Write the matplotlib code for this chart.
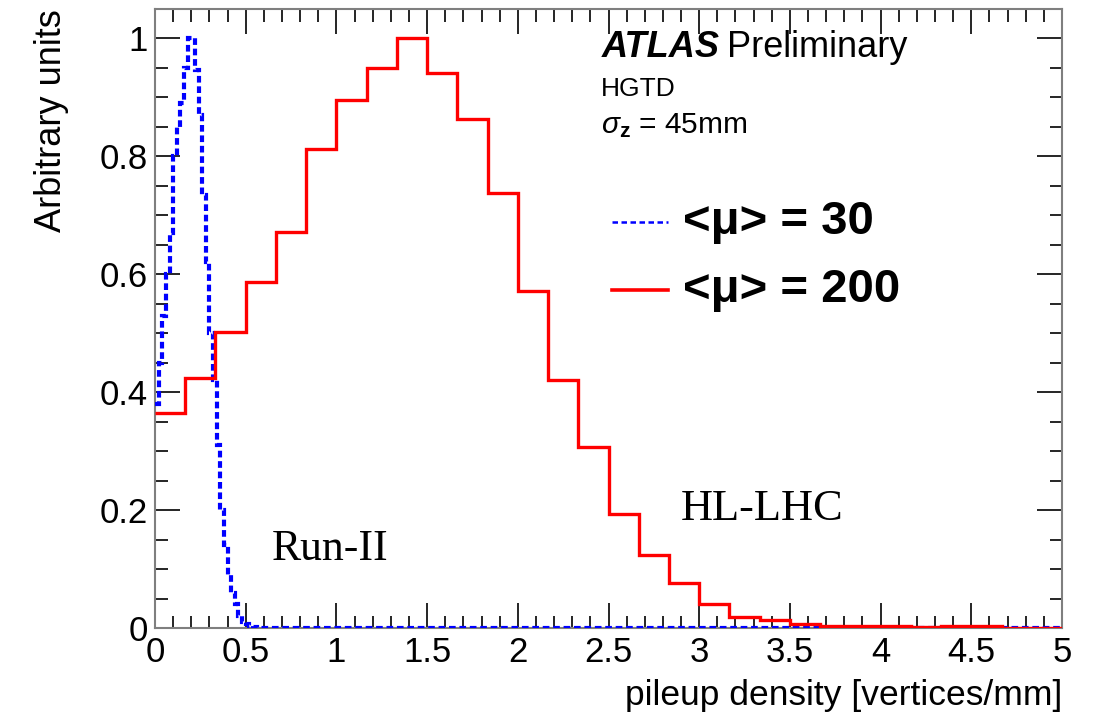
import numpy as np
import matplotlib
matplotlib.use("Agg")
import matplotlib.pyplot as plt
from matplotlib.ticker import MultipleLocator

plt.rcParams['font.family'] = ['Liberation Sans', 'DejaVu Sans']
plt.rcParams['mathtext.fontset'] = 'custom'
plt.rcParams['mathtext.rm'] = 'Liberation Sans'
plt.rcParams['mathtext.it'] = 'Liberation Sans:italic'
plt.rcParams['mathtext.bf'] = 'Liberation Sans:bold'

# ---- data ----
x_min, x_max = 0.0, 5.0
red_nbins = 30
red_values = [0.365, 0.424, 0.502, 0.587, 0.672, 0.813, 0.895, 0.950, 1.000, 0.942,
              0.864, 0.738, 0.571, 0.421, 0.307, 0.194, 0.124, 0.077, 0.041, 0.019,
              0.013, 0.007, 0.004, 0.003, 0.003, 0.002, 0.003, 0.003, 0.0, 0.0]
blue_nbins = 250
blue_nonzero = [0.38, 0.45, 0.53, 0.60, 0.67, 0.80, 0.85, 0.89, 0.95, 1.00,
                1.00, 0.947, 0.871, 0.735, 0.62, 0.50, 0.42, 0.31, 0.20, 0.14,
                0.09, 0.06, 0.04, 0.02, 0.01, 0.006, 0.003, 0.001]
blue_values = blue_nonzero + [0.0] * (blue_nbins - len(blue_nonzero))

label_30 = "<\u03bc> = 30"
label_200 = "<\u03bc> = 200"
xlabel = "pileup density [vertices/mm]"
ylabel = "Arbitrary units"

red_edges = np.linspace(x_min, x_max, red_nbins + 1)
blue_edges = np.linspace(x_min, x_max, blue_nbins + 1)

fig = plt.figure(figsize=(10.95, 7.21), dpi=100)
ax = fig.add_axes([155/1095, 1 - 628/721, 907/1095, 619/721])

ax.stairs(blue_values, blue_edges, color=(0, 0, 1), lw=3.0,
          linestyle=(0, (1.6, 0.9)), baseline=None, zorder=3)
ax.stairs(red_values, red_edges, color=(1, 0, 0), lw=2.4, baseline=None, zorder=4)

ax.set_xlim(x_min, x_max)
ax.set_ylim(0, 1.05)

ax.xaxis.set_major_locator(MultipleLocator(0.5))
ax.xaxis.set_minor_locator(MultipleLocator(0.1))
ax.yaxis.set_major_locator(MultipleLocator(0.2))
ax.yaxis.set_minor_locator(MultipleLocator(0.05))
ax.xaxis.set_major_formatter(matplotlib.ticker.FuncFormatter(lambda v, p: f"{v:g}"))
ax.yaxis.set_major_formatter(matplotlib.ticker.FuncFormatter(lambda v, p: f"{v:g}"))

ax.tick_params(which='both', direction='in', top=True, right=True, labelsize=25,
               colors='black', width=1.2)
ax.tick_params(which='major', length=18)
ax.tick_params(which='minor', length=9)
ax.tick_params(axis='x', pad=6)
ax.tick_params(axis='y', pad=5)
for s in ax.spines.values():
    s.set_color('#7f7f7f')
    s.set_linewidth(1.5)

ax.set_xlabel(xlabel, fontsize=25.5, loc='right', labelpad=7)
ax.set_ylabel(ylabel, fontsize=26, loc='top', labelpad=22)

# ATLAS label
t = ax.text(0.492, 0.922, "ATLAS", transform=ax.transAxes, fontsize=26,
            fontweight='bold', fontstyle='italic', va='baseline', ha='left')
fig.canvas.draw()
bb = t.get_window_extent().transformed(ax.transAxes.inverted())
ax.text(bb.x1 + 0.008, 0.922, "Preliminary", transform=ax.transAxes, fontsize=26,
        va='baseline', ha='left')
ax.text(0.492, 0.860, "HGTD", transform=ax.transAxes, fontsize=19,
        va='baseline', ha='left')
ax.text(0.492, 0.800, r"$\sigma_{\mathbf{z}}$ = 45mm", transform=ax.transAxes,
        fontsize=21.5, va='baseline', ha='left')

# legend
ax.plot([0.504, 0.566], [0.656, 0.656], transform=ax.transAxes, color=(0, 0, 1),
        lw=1.8, linestyle=(0, (2.2, 1.4)))
ax.text(0.582, 0.656, label_30, transform=ax.transAxes, fontsize=34,
        fontweight='bold', va='center', ha='left')
ax.plot([0.504, 0.566], [0.546, 0.546], transform=ax.transAxes, color=(1, 0, 0), lw=2.6)
ax.text(0.582, 0.546, label_200, transform=ax.transAxes, fontsize=34,
        fontweight='bold', va='center', ha='left')

ax.text(0.129, 0.11, "Run-II", transform=ax.transAxes, fontsize=31.5,
        family='Liberation Serif', va='baseline', ha='left')
ax.text(0.58, 0.174, "HL-LHC", transform=ax.transAxes, fontsize=32,
        family='Liberation Serif', va='baseline', ha='left')

fig.savefig("out.png", dpi=100)
